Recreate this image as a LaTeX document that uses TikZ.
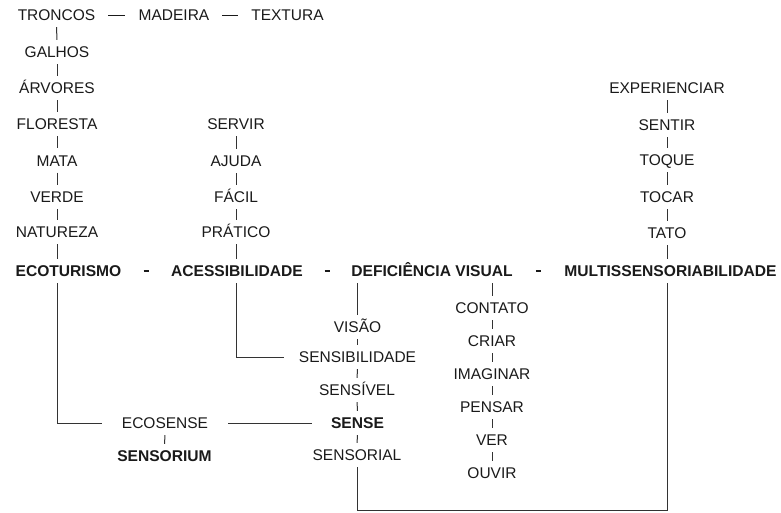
\documentclass[tikz,border=0pt]{standalone}
\usepackage{fontspec}
\setmainfont{Liberation Sans}
\usetikzlibrary{calc}
\definecolor{ink}{HTML}{1A1A1A}
\definecolor{wire}{HTML}{333333}
\begin{document}
\begin{tikzpicture}[x=1pt,y=-1pt,
  word/.style={font=\fontsize{15.5}{18}\selectfont, text=ink, inner xsep=0pt, inner ysep=6.3pt, text height=11.1pt, text depth=0pt, anchor=center},
  key/.style={word, font=\fontsize{15.6}{18}\selectfont\bfseries},
  link/.style={draw=wire, line width=1pt},
  hy/.style={draw=ink, line width=1.6pt},
  em/.style={draw=ink, line width=1pt}]
\useasboundingbox (0,0) rectangle (781,512);
% top row
\node[word] (tro) at (56.5,15) {TRONCOS};
\node[word] (mad) at (174,15) {MADEIRA};
\node[word] (tex) at (287.5,15) {TEXTURA};
% left column
\node[word] (gal) at (57,52) {GALHOS};
\node[word] (arv) at (57,88) {ÁRVORES};
\node[word] (flo) at (57,124) {FLORESTA};
\node[word] (mat) at (57,160.5) {MATA};
\node[word] (ver) at (57,197) {VERDE};
\node[word] (nat) at (57,232) {NATUREZA};
% second column
\node[word] (ser) at (236,124) {SERVIR};
\node[word] (aju) at (236,161) {AJUDA};
\node[word] (fac) at (236,197) {FÁCIL};
\node[word] (pra) at (236,232) {PRÁTICO};
% right column
\node[word] (exp) at (667,88) {EXPERIENCIAR};
\node[word] (sen) at (667,125) {SENTIR};
\node[word] (toq) at (667,160) {TOQUE};
\node[word] (toc) at (667,197) {TOCAR};
\node[word] (tat) at (667,233) {TATO};
% main row
\node[key] (eco) at (68.5,271) {ECOTURISMO};
\node[key] (ace) at (237,271) {ACESSIBILIDADE};
\node[key] (def) at (432,271) {DEFICIÊNCIA VISUAL};
\node[key] (mul) at (670.5,271) {MULTISSENSORIABILIDADE};
% lower columns
\node[word] (vis) at (357.5,327) {VISÃO};
\node[word] (sbl) at (357.5,357) {SENSIBILIDADE};
\node[word] (svl) at (357,390) {SENSÍVEL};
\node[key] (sns) at (357.5,423) {SENSE};
\node[word] (sor) at (357,455) {SENSORIAL};
\node[word] (con) at (492,308) {CONTATO};
\node[word] (cri) at (492,341) {CRIAR};
\node[word] (ima) at (492,374) {IMAGINAR};
\node[word] (pen) at (492,407) {PENSAR};
\node[word] (vr) at (492,440) {VER};
\node[word] (ouv) at (492,473) {OUVIR};
\node[word] (ecs) at (165,423) {ECOSENSE};
\node[key] (sum) at (164.5,456) {SENSORIUM};
\coordinate (bot) at (667,510);
% em dashes on top row
\path (tro.east) -- coordinate[pos=0.5] (d1) (mad.west);
\path (mad.east) -- coordinate[pos=0.5] (d2) (tex.west);
\draw[em] ([xshift=-8.5pt]d1) -- ([xshift=8.5pt]d1);
\draw[em] ([xshift=-8pt]d2) -- ([xshift=8pt]d2);
% hyphens on main row
\path (eco.east) -- coordinate[pos=0.5] (h1) (ace.west);
\path (ace.east) -- coordinate[pos=0.5] (h2) (def.west);
\path (def.east) -- coordinate[pos=0.5] (h3) (mul.west);
\foreach \h in {h1,h2,h3} \draw[hy] ([xshift=-2.6pt]\h) -- ([xshift=2.6pt]\h);
% vertical chains
\draw[link] (tro) -- (gal);
\draw[link] (gal) -- (arv);
\draw[link] (arv) -- (flo);
\draw[link] (flo) -- (mat);
\draw[link] (mat) -- (ver);
\draw[link] (ver) -- (nat);
\draw[link] (nat) -- (nat |- eco.north);
\draw[link] (ser) -- (aju);
\draw[link] (aju) -- (fac);
\draw[link] (fac) -- (pra);
\draw[link] (pra) -- (pra |- ace.north);
\draw[link] (exp) -- (sen);
\draw[link] (sen) -- (toq);
\draw[link] (toq) -- (toc);
\draw[link] (toc) -- (tat);
\draw[link] (tat) -- (tat |- mul.north);
\draw[link] (vis |- def.south) -- (vis);
\draw[link] (vis) -- (sbl);
\draw[link] (sbl) -- (svl);
\draw[link] (svl) -- (sns);
\draw[link] (sns) -- (sor);
\draw[link] (con |- def.south) -- (con);
\draw[link] (con) -- (cri);
\draw[link] (cri) -- (ima);
\draw[link] (ima) -- (pen);
\draw[link] (pen) -- (vr);
\draw[link] (vr) -- (ouv);
\draw[link] (ecs) -- (sum);
% elbow connectors
\draw[link, shorten >=20pt] (nat |- eco.south) |- (ecs.west);
\draw[link, shorten <=20pt, shorten >=19pt] (ecs.east) -- (sns.west);
\draw[link, shorten >=15pt] (pra |- ace.south) |- (sbl.west);
\draw[link] (sor.south) |- (bot) -- (bot |- mul.south);
\end{tikzpicture}
\end{document}
